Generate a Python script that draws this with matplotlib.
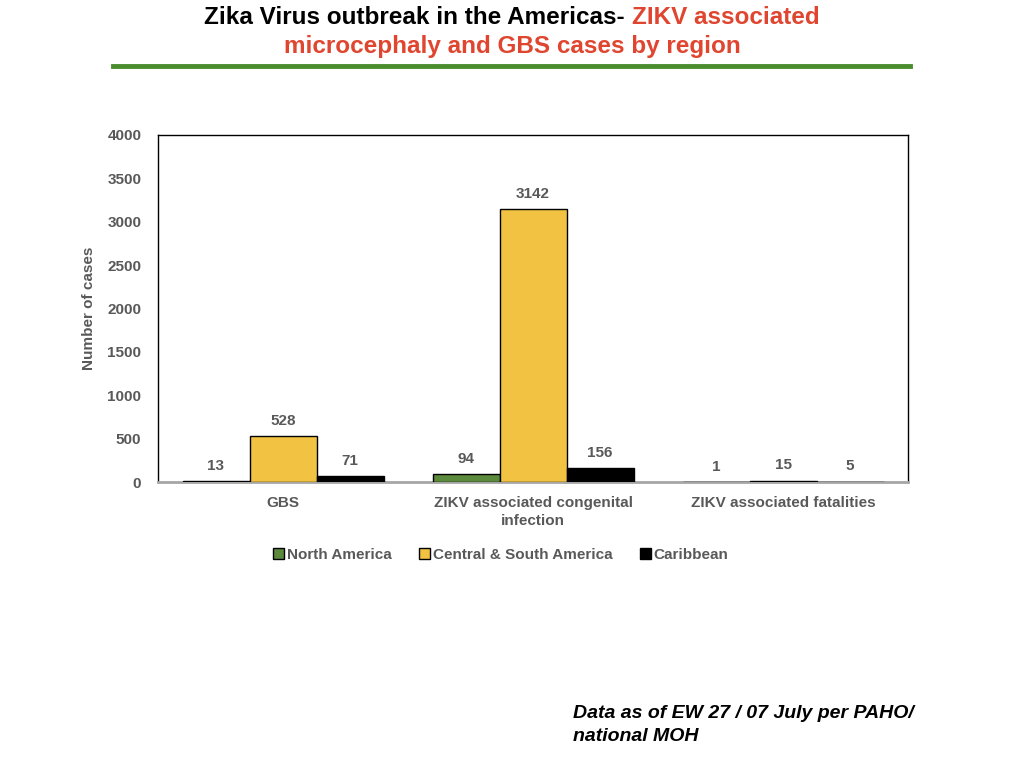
import numpy as np
import matplotlib
matplotlib.use('Agg')
import matplotlib.pyplot as plt
from matplotlib.patches import Patch

plt.rcParams['font.family'] = ['Liberation Sans', 'DejaVu Sans']

categories = ['GBS', 'ZIKV associated congenital\ninfection', 'ZIKV associated fatalities']
regions = ['North America', 'Central & South America', 'Caribbean']
north_america = [13, 94, 1]
central_south = [528, 3142, 15]
caribbean = [71, 156, 5]
colors = ['#5b8a3c', '#f2c343', '#000000']
yticks = [0, 500, 1000, 1500, 2000, 2500, 3000, 3500, 4000]

grey = '#595959'

fig = plt.figure(figsize=(10.24, 7.68), dpi=100)
ax = fig.add_axes([158 / 1024, 1 - 482 / 768, 750 / 1024, 347 / 768])

x = np.arange(len(categories))
w = 0.268
series = [north_america, central_south, caribbean]
for i, (vals, col) in enumerate(zip(series, colors)):
    bars = ax.bar(x + (i - 1) * w, vals, w, color=col, edgecolor='black', linewidth=1.0, zorder=3)
    for b, v in zip(bars, vals):
        ax.annotate(str(v), (b.get_x() + b.get_width() / 2, v), xytext=(0, 6),
                    textcoords='offset points', ha='center', va='bottom',
                    fontsize=11, fontweight='bold', color=grey)

ax.set_xlim(-0.5, 2.5)
ax.set_ylim(0, 4000)
ax.set_yticks(yticks)
ax.set_xticks(x)
ax.set_xticklabels(categories, fontsize=11, fontweight='bold', color=grey, linespacing=1.4)
ax.tick_params(axis='y', labelsize=11, labelcolor=grey, length=0, pad=12)
ax.tick_params(axis='x', length=0, pad=10)
for t in ax.get_yticklabels():
    t.set_fontweight('bold')
for s in ax.spines.values():
    s.set_color('black')
    s.set_linewidth(1.0)
ax.spines['bottom'].set_color('#a6a6a6')
ax.spines['bottom'].set_linewidth(2)
ax.set_ylabel('Number of cases', fontsize=11, fontweight='bold', color=grey, labelpad=8)

handles = [Patch(facecolor=c, edgecolor='black') for c in colors]
ax.legend(handles, regions, loc='upper center', bbox_to_anchor=(0.457, -0.15), ncol=3,
          frameon=False, prop={'size': 11, 'weight': 'bold'}, labelcolor=grey,
          handlelength=0.7, handleheight=0.7, handletextpad=0.2, columnspacing=1.8)

# title in two colours
red = '#e0452f'
tfont = dict(fontsize=17.5, fontweight='bold')
fig.canvas.draw()
r = fig.canvas.get_renderer()
t1 = fig.text(0, 1 - 17 / 768, 'Zika Virus outbreak in the Americas- ', color='black', va='center', **tfont)
t2 = fig.text(0, 1 - 17 / 768, 'ZIKV associated', color=red, va='center', **tfont)
w1 = t1.get_window_extent(r).width
w2 = t2.get_window_extent(r).width
start = 512 - (w1 + w2) / 2
t1.set_x(start / 1024)
t2.set_x((start + w1) / 1024)
fig.text(0.5, 1 - 46 / 768, 'microcephaly and GBS cases by region', color=red, ha='center', va='center', **tfont)

fig.add_artist(plt.Line2D([113 / 1024, 910 / 1024], [1 - 66 / 768, 1 - 66 / 768], color='#4a8c2e', linewidth=3.5))

fig.text(573 / 1024, 1 - 725 / 768, 'Data as of EW 27 / 07 July per PAHO/\nnational MOH', fontsize=14,
         fontweight='bold', style='italic', va='center', ha='left', linespacing=1.45)

fig.savefig('out.png', dpi=100)
